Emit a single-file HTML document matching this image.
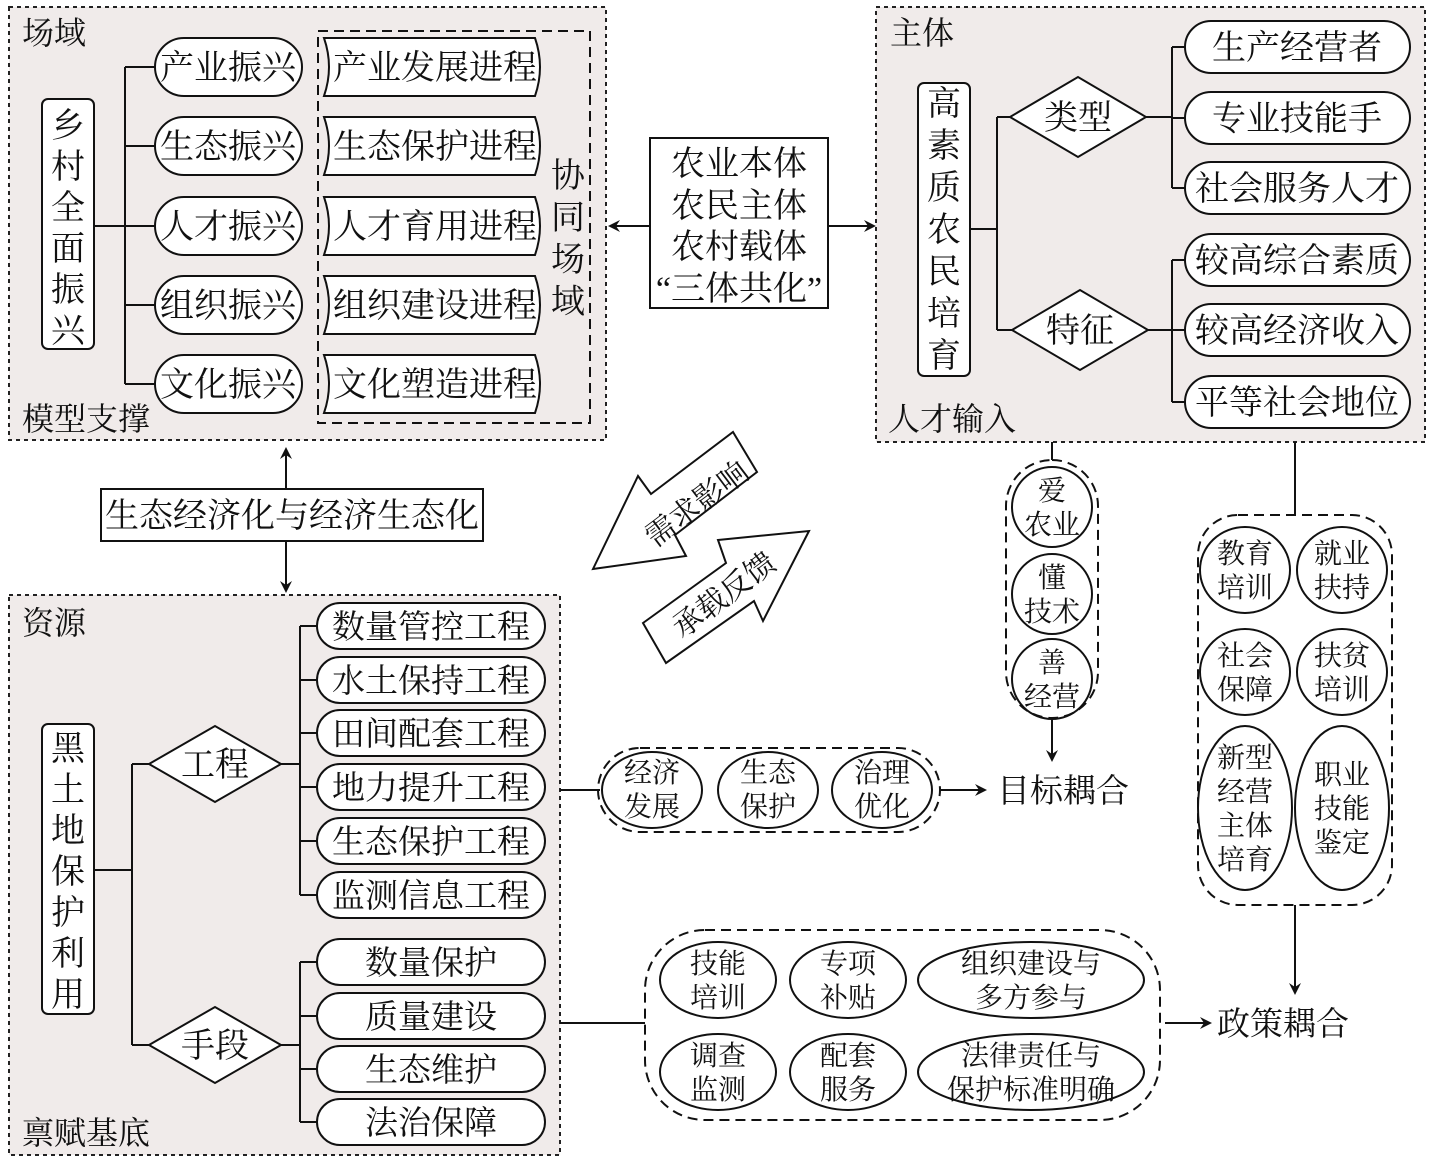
<!DOCTYPE html><html><head><meta charset="utf-8"><style>body{margin:0;background:#fff}svg{display:block}text{font-family:"Liberation Serif","Noto Serif CJK SC",serif;fill:#111}</style></head><body>
<svg width="1431" height="1162" viewBox="0 0 1431 1162" xmlns="http://www.w3.org/2000/svg">
<defs><marker id="a" markerWidth="12" markerHeight="12" refX="10" refY="6" orient="auto" markerUnits="userSpaceOnUse"><path d="M0,0 L12,6 L0,12 L4,6z" fill="#111"/></marker></defs>
<g stroke="#222" stroke-width="2" fill="none">
<rect x="9" y="7" width="597" height="433" fill="#f0ebea" stroke-dasharray="4,4"/>
<rect x="876" y="7" width="549" height="435" fill="#f0ebea" stroke-dasharray="4,4"/>
<rect x="9" y="595" width="551" height="560" fill="#f0ebea" stroke-dasharray="4,4"/>
</g>
<g font-size="32" text-anchor="start">
<text x="22" y="44">场域</text><text x="22" y="430">模型支撑</text>
<text x="890" y="44">主体</text><text x="888" y="430">人才输入</text>
<text x="22" y="634">资源</text><text x="22" y="1144">禀赋基底</text>
</g>
<g stroke="#111" stroke-width="2" fill="#fff">
<rect x="42" y="99" width="52" height="250" rx="6"/>
<rect x="918" y="83" width="52" height="293" rx="6"/>
<rect x="42" y="724" width="52" height="290" rx="6"/>
<rect x="650" y="138" width="178" height="170"/>
<rect x="101" y="489" width="382" height="52"/>
</g>
<g stroke="#111" stroke-width="2" fill="none">
<path d="M94,226H125M125,67V384M125,67H155M125,146H155M125,226H155M125,305H155M125,384H155"/>
<rect x="318" y="31" width="272" height="392" stroke-dasharray="10,6"/>
<path d="M970,229H997M997,117V330M997,117H1010M997,330H1012"/>
<path d="M1146,117H1172M1172,47V188M1172,47H1185M1172,118H1185M1172,188H1185"/>
<path d="M1148,330H1172M1172,260V402M1172,260H1185M1172,330H1185M1172,402H1185"/>
<path d="M94,870H132M132,764V1045M132,764H149M132,1045H149"/>
<path d="M281,764H300M300,626V895M300,626H317M300,680H317M300,733H317M300,787H317M300,841H317M300,895H317"/>
<path d="M281,1045H300M300,962V1122M300,962H317M300,1016H317M300,1069H317M300,1122H317"/>
<path d="M560,790H600M560,1023H645M1052,442V460M1295,442V515"/>
<path d="M650,226H610" marker-end="url(#a)"/><path d="M828,226H874" marker-end="url(#a)"/>
<path d="M286,489V449" marker-end="url(#a)"/><path d="M286,541V591" marker-end="url(#a)"/>
<path d="M940,790H985" marker-end="url(#a)"/><path d="M1165,1023H1210" marker-end="url(#a)"/>
<path d="M1052,718V760" marker-end="url(#a)"/><path d="M1295,905V993" marker-end="url(#a)"/>
</g>
<g stroke="#111" stroke-width="2" fill="#fff">
<rect x="155" y="38" width="147" height="58" rx="29"/><rect x="155" y="117" width="147" height="58" rx="29"/><rect x="155" y="197" width="147" height="58" rx="29"/><rect x="155" y="276" width="147" height="58" rx="29"/><rect x="155" y="355" width="147" height="58" rx="29"/>
<path d="M324,38H535Q545,67 535,96H324Q334,67 324,38z"/>
<path d="M324,117H535Q545,146 535,175H324Q334,146 324,117z"/>
<path d="M324,197H535Q545,226 535,255H324Q334,226 324,197z"/>
<path d="M324,276H535Q545,305 535,334H324Q334,305 324,276z"/>
<path d="M324,355H535Q545,384 535,413H324Q334,384 324,355z"/>
<path d="M1010,117L1078,77L1146,117L1078,157z"/><path d="M1012,330L1080,290L1148,330L1080,370z"/>
<rect x="1185" y="21" width="225" height="52" rx="26"/><rect x="1185" y="92" width="225" height="52" rx="26"/><rect x="1185" y="162" width="225" height="52" rx="26"/>
<rect x="1185" y="234" width="225" height="52" rx="26"/><rect x="1185" y="304" width="225" height="52" rx="26"/><rect x="1185" y="376" width="225" height="52" rx="26"/>
<path d="M149,764L215,726L281,764L215,802z"/><path d="M149,1045L215,1007L281,1045L215,1083z"/>
<rect x="317" y="603" width="228" height="46" rx="23"/><rect x="317" y="657" width="228" height="46" rx="23"/><rect x="317" y="710" width="228" height="46" rx="23"/><rect x="317" y="764" width="228" height="46" rx="23"/><rect x="317" y="818" width="228" height="46" rx="23"/><rect x="317" y="872" width="228" height="46" rx="23"/>
<rect x="317" y="939" width="228" height="46" rx="23"/><rect x="317" y="993" width="228" height="46" rx="23"/><rect x="317" y="1046" width="228" height="46" rx="23"/><rect x="317" y="1099" width="228" height="46" rx="23"/>
<polygon points="593,569 638,476 651,494 733,432 757,472 675,535 686,556"/>
<polygon points="643,623 726,563 718,540 809,531 763,621 754,601 666,663"/>
</g>
<g stroke="#111" stroke-width="2" fill="none">
<rect x="598" y="748" width="342" height="84" rx="42" stroke-dasharray="10,6"/>
<rect x="645" y="930" width="515" height="190" rx="60" stroke-dasharray="10,6"/>
<rect x="1006" y="460" width="92" height="258" rx="46" stroke-dasharray="10,6"/>
<rect x="1198" y="515" width="194" height="390" rx="40" stroke-dasharray="10,6"/>
<ellipse cx="652" cy="790" rx="50" ry="38"/><ellipse cx="768" cy="790" rx="50" ry="38"/><ellipse cx="882" cy="790" rx="50" ry="38"/>
<ellipse cx="718" cy="980" rx="58" ry="38"/><ellipse cx="848" cy="980" rx="58" ry="38"/><ellipse cx="1031" cy="980" rx="113" ry="38"/>
<ellipse cx="718" cy="1072" rx="58" ry="38"/><ellipse cx="848" cy="1072" rx="58" ry="38"/><ellipse cx="1031" cy="1072" rx="113" ry="38"/>
<circle cx="1052" cy="507" r="40"/><circle cx="1052" cy="594" r="40"/><circle cx="1052" cy="679" r="40"/>
<ellipse cx="1245" cy="570" rx="45" ry="43"/><ellipse cx="1342" cy="570" rx="45" ry="43"/><ellipse cx="1245" cy="672" rx="45" ry="43"/><ellipse cx="1342" cy="672" rx="45" ry="43"/>
<ellipse cx="1245" cy="808" rx="47" ry="82"/><ellipse cx="1342" cy="808" rx="47" ry="82"/>
</g>
<g font-size="34" text-anchor="middle">
<text x="68" y="137">乡</text><text x="68" y="178">村</text><text x="68" y="219">全</text><text x="68" y="260">面</text><text x="68" y="301">振</text><text x="68" y="342">兴</text>
<text x="228" y="79">产业振兴</text><text x="228" y="158">生态振兴</text><text x="228" y="238">人才振兴</text><text x="228" y="317">组织振兴</text><text x="228" y="396">文化振兴</text>
<text x="435" y="79">产业发展进程</text><text x="435" y="158">生态保护进程</text><text x="435" y="238">人才育用进程</text><text x="435" y="317">组织建设进程</text><text x="435" y="396">文化塑造进程</text>
<text x="568" y="187">协</text><text x="568" y="229">同</text><text x="568" y="271">场</text><text x="568" y="313">域</text>
<text x="739" y="175">农业本体</text><text x="739" y="217">农民主体</text><text x="739" y="258">农村载体</text><text x="739" y="300">“三体共化”</text>
<text x="944" y="115">高</text><text x="944" y="157">素</text><text x="944" y="199">质</text><text x="944" y="241">农</text><text x="944" y="283">民</text><text x="944" y="325">培</text><text x="944" y="367">育</text>
<text x="1078" y="129">类型</text><text x="1080" y="342">特征</text>
<text x="1297" y="59">生产经营者</text><text x="1297" y="130">专业技能手</text><text x="1297" y="200">社会服务人才</text>
<text x="1297" y="272">较高综合素质</text><text x="1297" y="342">较高经济收入</text><text x="1297" y="414">平等社会地位</text>
<text x="292" y="527">生态经济化与经济生态化</text>
<text x="68" y="760">黑</text><text x="68" y="801">土</text><text x="68" y="842">地</text><text x="68" y="883">保</text><text x="68" y="924">护</text><text x="68" y="965">利</text><text x="68" y="1006">用</text>
<text x="215" y="776">工程</text><text x="215" y="1057">手段</text>
</g>
<g font-size="33" text-anchor="middle">
<text x="431" y="638">数量管控工程</text><text x="431" y="692">水土保持工程</text><text x="431" y="745">田间配套工程</text><text x="431" y="799">地力提升工程</text><text x="431" y="853">生态保护工程</text><text x="431" y="907">监测信息工程</text>
<text x="431" y="974">数量保护</text><text x="431" y="1028">质量建设</text><text x="431" y="1081">生态维护</text><text x="431" y="1134">法治保障</text>
<text x="1063" y="802">目标耦合</text><text x="1283" y="1035">政策耦合</text>
</g>
<g font-size="28" text-anchor="middle">
<text x="652" y="782">经济</text><text x="652" y="816">发展</text><text x="768" y="782">生态</text><text x="768" y="816">保护</text><text x="882" y="782">治理</text><text x="882" y="816">优化</text>
<text x="718" y="973">技能</text><text x="718" y="1007">培训</text><text x="848" y="973">专项</text><text x="848" y="1007">补贴</text><text x="1031" y="973">组织建设与</text><text x="1031" y="1007">多方参与</text>
<text x="718" y="1065">调查</text><text x="718" y="1099">监测</text><text x="848" y="1065">配套</text><text x="848" y="1099">服务</text><text x="1031" y="1065">法律责任与</text><text x="1031" y="1099">保护标准明确</text>
<text x="1052" y="500">爱</text><text x="1052" y="534">农业</text><text x="1052" y="587">懂</text><text x="1052" y="621">技术</text><text x="1052" y="672">善</text><text x="1052" y="706">经营</text>
<text x="1245" y="563">教育</text><text x="1245" y="597">培训</text><text x="1342" y="563">就业</text><text x="1342" y="597">扶持</text>
<text x="1245" y="665">社会</text><text x="1245" y="699">保障</text><text x="1342" y="665">扶贫</text><text x="1342" y="699">培训</text>
<text x="1245" y="767">新型</text><text x="1245" y="801">经营</text><text x="1245" y="835">主体</text><text x="1245" y="869">培育</text>
<text x="1342" y="784">职业</text><text x="1342" y="818">技能</text><text x="1342" y="852">鉴定</text>
<text transform="translate(703,512) rotate(-37)" font-size="30">需求影响</text>
<text transform="translate(730,603) rotate(-37)" font-size="30">承载反馈</text>
</g>
</svg></body></html>
